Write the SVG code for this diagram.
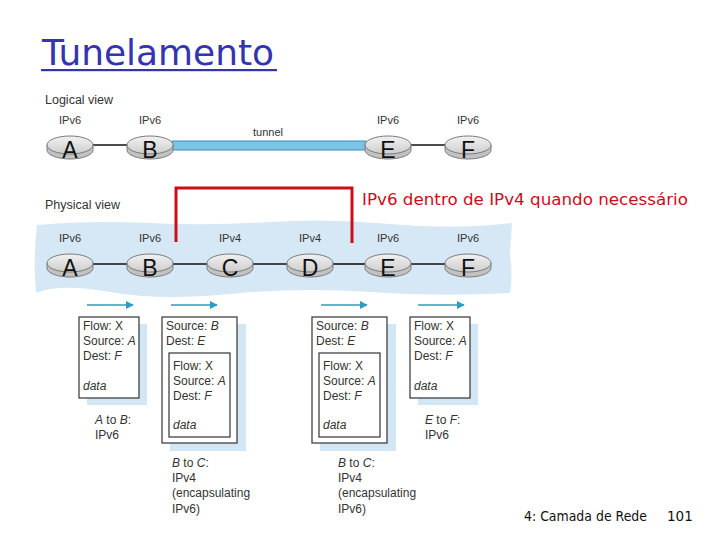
<svg xmlns="http://www.w3.org/2000/svg" xmlns:xlink="http://www.w3.org/1999/xlink" width="720" height="540" viewBox="0 0 720 540">
<defs>
<linearGradient id="diskTop" x1="0" y1="0" x2="0" y2="1">
<stop offset="0" stop-color="#f2f2f2"/>
<stop offset="1" stop-color="#cdcdcd"/>
</linearGradient>
<g id="disk">
<path d="M-23,0 L-23,5 A23,9 0 0 0 23,5 L23,0 Z" fill="#c2c2c2" stroke="#7a7a7a" stroke-width="1"/>
<ellipse cx="0" cy="0" rx="23" ry="9" fill="url(#diskTop)" stroke="#7a7a7a" stroke-width="1"/>
</g>
<marker id="arr" viewBox="0 0 10 10" refX="9" refY="5" markerWidth="8" markerHeight="8" markerUnits="userSpaceOnUse" orient="auto">
<path d="M0,0 L10,5 L0,10 Z" fill="#2e9bc6"/>
</marker>
</defs>
<style>
.lbl{font-family:"Liberation Sans","DejaVu Sans",sans-serif;font-size:11px;fill:#333}
.view{font-family:"Liberation Sans","DejaVu Sans",sans-serif;font-size:12.5px;fill:#333}
.letter{font-family:"Liberation Sans","DejaVu Sans",sans-serif;font-size:23px;fill:#111;text-anchor:middle}
.ptxt{font-family:"Liberation Sans","DejaVu Sans",sans-serif;font-size:12px;fill:#333}
.box{fill:#fff;stroke:#333;stroke-width:1.2}
.shadow{fill:#d3e6f3}
.link{stroke:#111;stroke-width:1.6}
.flow{stroke:#2e9bc6;stroke-width:1.5;marker-end:url(#arr)}
</style>
<rect width="720" height="540" fill="#fff"/>

<!-- Title -->
<text x="42" y="65" font-family="'Comic Sans MS','DejaVu Sans',sans-serif" font-size="35" fill="#3434b0" textLength="232" lengthAdjust="spacingAndGlyphs">Tunelamento</text>
<rect x="41" y="69" width="236" height="2.2" fill="#3434b0"/>

<text class="view" x="45" y="104">Logical view</text>
<text class="view" x="45" y="209">Physical view</text>

<!-- physical background -->
<path d="M37,225 Q90,220 150,223 T270,222 T390,224 T512,223 L510,255 Q513,275 510,293 Q440,297 370,292 T230,294 T110,292 T36,293 Q33,260 37,225 Z" fill="#d6e8f5"/>

<!-- connectors -->
<g id="connectors">
<line class="link" x1="92" y1="145" x2="127" y2="145"/>
<rect x="172" y="141" width="194" height="9" fill="#7cc4e6" stroke="#3d8fb8" stroke-width="1"/>
<line class="link" x1="411" y1="145" x2="445" y2="145"/>
<line class="link" x1="92" y1="264" x2="127" y2="264"/>
<line class="link" x1="173" y1="264" x2="207" y2="264"/>
<line class="link" x1="253" y1="264" x2="287" y2="264"/>
<line class="link" x1="333" y1="264" x2="365" y2="264"/>
<line class="link" x1="411" y1="264" x2="445" y2="264"/>
<polyline points="176,242 176,188 352,188 352,243" fill="none" stroke="#cc0d1a" stroke-width="3"/>
<line class="flow" x1="87" y1="305" x2="133" y2="305"/>
<line class="flow" x1="171" y1="305" x2="217" y2="305"/>
<line class="flow" x1="321" y1="305" x2="367" y2="305"/>
<line class="flow" x1="418" y1="305" x2="464" y2="305"/>
</g>

<text x="268" y="136" class="lbl" text-anchor="middle">tunnel</text>

<!-- logical nodes -->
<g id="logA"><text class="lbl" x="70" y="124" text-anchor="middle">IPv6</text><use xlink:href="#disk" x="70" y="145"/><text class="letter" x="70" y="158">A</text></g>
<g id="logB"><text class="lbl" x="150" y="124" text-anchor="middle">IPv6</text><use xlink:href="#disk" x="150" y="145"/><text class="letter" x="150" y="158">B</text></g>
<g id="logE"><text class="lbl" x="388" y="124" text-anchor="middle">IPv6</text><use xlink:href="#disk" x="388" y="145"/><text class="letter" x="388" y="158">E</text></g>
<g id="logF"><text class="lbl" x="468" y="124" text-anchor="middle">IPv6</text><use xlink:href="#disk" x="468" y="145"/><text class="letter" x="468" y="158">F</text></g>

<!-- physical nodes -->
<g id="phyA"><text class="lbl" x="70" y="242" text-anchor="middle">IPv6</text><use xlink:href="#disk" x="70" y="263"/><text class="letter" x="70" y="276">A</text></g>
<g id="phyB"><text class="lbl" x="150" y="242" text-anchor="middle">IPv6</text><use xlink:href="#disk" x="150" y="263"/><text class="letter" x="150" y="276">B</text></g>
<g id="phyC"><text class="lbl" x="230" y="242" text-anchor="middle">IPv4</text><use xlink:href="#disk" x="230" y="263"/><text class="letter" x="230" y="276">C</text></g>
<g id="phyD"><text class="lbl" x="310" y="242" text-anchor="middle">IPv4</text><use xlink:href="#disk" x="310" y="263"/><text class="letter" x="310" y="276">D</text></g>
<g id="phyE"><text class="lbl" x="388" y="242" text-anchor="middle">IPv6</text><use xlink:href="#disk" x="388" y="263"/><text class="letter" x="388" y="276">E</text></g>
<g id="phyF"><text class="lbl" x="468" y="242" text-anchor="middle">IPv6</text><use xlink:href="#disk" x="468" y="263"/><text class="letter" x="468" y="276">F</text></g>

<text x="362" y="205" font-family="'Comic Sans MS','DejaVu Sans',sans-serif" font-size="15" fill="#cc0d1a" textLength="326" lengthAdjust="spacingAndGlyphs">IPv6 dentro de IPv4 quando necessário</text>

<!-- packet 1 -->
<g id="pkt1">
<rect class="shadow" x="87" y="324" width="60" height="81"/>
<rect class="box" x="79" y="317" width="60" height="81"/>
<text class="ptxt" x="83" y="330">Flow: X</text>
<text class="ptxt" x="83" y="345">Source: <tspan font-style="italic">A</tspan></text>
<text class="ptxt" x="83" y="360">Dest: <tspan font-style="italic">F</tspan></text>
<text class="ptxt" x="83" y="390" font-style="italic">data</text>
<text class="ptxt" x="95" y="424"><tspan font-style="italic">A</tspan> to <tspan font-style="italic">B</tspan>:</text>
<text class="ptxt" x="95" y="439">IPv6</text>
</g>

<!-- packet 2 -->
<g id="pkt2">
<rect class="shadow" x="170" y="324" width="76" height="127"/>
<rect class="box" x="162" y="317" width="75" height="126"/>
<text class="ptxt" x="166" y="330">Source: <tspan font-style="italic">B</tspan></text>
<text class="ptxt" x="166" y="345">Dest: <tspan font-style="italic">E</tspan></text>
<rect class="box" x="169" y="353" width="61" height="84" stroke="#555"/>
<text class="ptxt" x="173" y="370">Flow: X</text>
<text class="ptxt" x="173" y="385">Source: <tspan font-style="italic">A</tspan></text>
<text class="ptxt" x="173" y="400">Dest: <tspan font-style="italic">F</tspan></text>
<text class="ptxt" x="173" y="429" font-style="italic">data</text>
<text class="ptxt" x="172" y="467"><tspan font-style="italic">B</tspan> to <tspan font-style="italic">C</tspan>:</text>
<text class="ptxt" x="172" y="482">IPv4</text>
<text class="ptxt" x="172" y="497">(encapsulating</text>
<text class="ptxt" x="172" y="513">IPv6)</text>
</g>

<!-- packet 3 -->
<g id="pkt3">
<rect class="shadow" x="320" y="324" width="76" height="127"/>
<rect class="box" x="312" y="317" width="75" height="126"/>
<text class="ptxt" x="316" y="330">Source: <tspan font-style="italic">B</tspan></text>
<text class="ptxt" x="316" y="345">Dest: <tspan font-style="italic">E</tspan></text>
<rect class="box" x="319" y="353" width="61" height="84" stroke="#555"/>
<text class="ptxt" x="323" y="370">Flow: X</text>
<text class="ptxt" x="323" y="385">Source: <tspan font-style="italic">A</tspan></text>
<text class="ptxt" x="323" y="400">Dest: <tspan font-style="italic">F</tspan></text>
<text class="ptxt" x="323" y="429" font-style="italic">data</text>
<text class="ptxt" x="338" y="467"><tspan font-style="italic">B</tspan> to <tspan font-style="italic">C</tspan>:</text>
<text class="ptxt" x="338" y="482">IPv4</text>
<text class="ptxt" x="338" y="497">(encapsulating</text>
<text class="ptxt" x="338" y="513">IPv6)</text>
</g>

<!-- packet 4 -->
<g id="pkt4">
<rect class="shadow" x="418" y="324" width="60" height="81"/>
<rect class="box" x="410" y="317" width="60" height="81"/>
<text class="ptxt" x="414" y="330">Flow: X</text>
<text class="ptxt" x="414" y="345">Source: <tspan font-style="italic">A</tspan></text>
<text class="ptxt" x="414" y="360">Dest: <tspan font-style="italic">F</tspan></text>
<text class="ptxt" x="414" y="390" font-style="italic">data</text>
<text class="ptxt" x="425" y="424"><tspan font-style="italic">E</tspan> to <tspan font-style="italic">F</tspan>:</text>
<text class="ptxt" x="425" y="439">IPv6</text>
</g>

<!-- footer -->
<text x="524" y="521" font-family="'Comic Sans MS','DejaVu Sans',sans-serif" font-size="13.5" fill="#111" textLength="123" lengthAdjust="spacingAndGlyphs">4: Camada de Rede</text>
<text x="667" y="521" font-family="'Comic Sans MS','DejaVu Sans',sans-serif" font-size="13.5" fill="#111">101</text>
</svg>
